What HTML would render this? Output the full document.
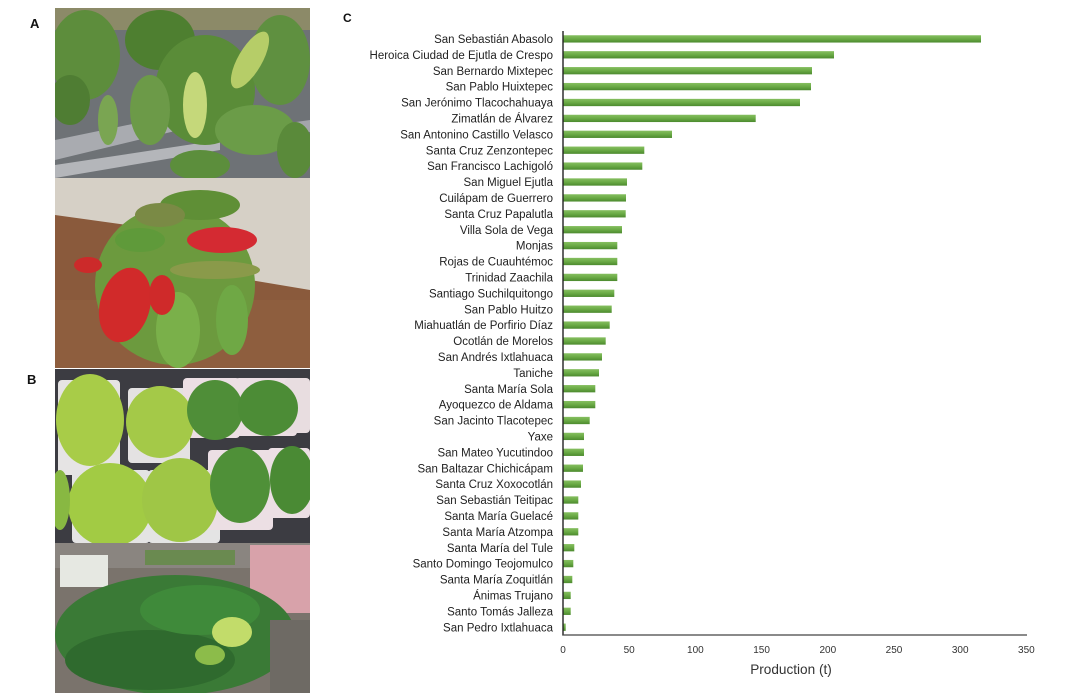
<!DOCTYPE html>
<html><head><meta charset="utf-8"><style>
html,body{margin:0;padding:0;background:#fff;}
svg{display:block;}
.lbl{font-family:"Liberation Sans",Arial,sans-serif;font-size:11.5px;fill:#222;}
.tick{font-family:"Liberation Sans",Arial,sans-serif;font-size:10px;fill:#333;}
.pan{font-family:"Liberation Sans",Arial,sans-serif;font-size:13px;font-weight:bold;fill:#111;}
</style></head><body>
<svg width="1090" height="699" viewBox="0 0 1090 699" xmlns="http://www.w3.org/2000/svg">
<defs>
<linearGradient id="bg" x1="0" y1="0" x2="0" y2="1">
<stop offset="0" stop-color="#86bf60"/><stop offset="0.5" stop-color="#6aaa45"/><stop offset="1" stop-color="#4c8a2e"/>
</linearGradient>
<clipPath id="cA1"><rect x="55" y="8" width="255" height="170"/></clipPath>
<clipPath id="cA2"><rect x="55" y="178" width="255" height="190"/></clipPath>
<clipPath id="cB1"><rect x="55" y="369" width="255" height="174"/></clipPath>
<clipPath id="cB2"><rect x="55" y="543" width="255" height="150"/></clipPath>
</defs>

<!-- Panel labels -->
<text class="pan" x="30" y="28">A</text>
<text class="pan" x="27" y="384">B</text>
<text class="pan" x="343" y="22" style="font-size:12px">C</text>

<!-- Photo A top -->
<g clip-path="url(#cA1)">
<rect x="55" y="8" width="255" height="170" fill="#6e7276"/>
<rect x="55" y="8" width="255" height="22" fill="#8c8a68"/>
<polygon points="55,140 200,110 200,125 55,160" fill="#a9abb0"/>
<polygon points="55,165 220,140 220,150 55,178" fill="#b4b6ba"/>
<polygon points="240,130 310,120 310,132 240,142" fill="#a3a5aa"/>
<ellipse cx="85" cy="55" rx="35" ry="45" fill="#5d8d3c"/>
<ellipse cx="70" cy="100" rx="20" ry="25" fill="#4f7d33"/>
<ellipse cx="160" cy="40" rx="35" ry="30" fill="#4e7f30"/>
<ellipse cx="205" cy="90" rx="50" ry="55" fill="#5a8c38"/>
<ellipse cx="150" cy="110" rx="20" ry="35" fill="#6c9a48"/>
<ellipse cx="280" cy="60" rx="30" ry="45" fill="#5f9040"/>
<ellipse cx="255" cy="130" rx="40" ry="25" fill="#6b9c48"/>
<ellipse cx="295" cy="150" rx="18" ry="28" fill="#5a8a3a"/>
<ellipse cx="200" cy="165" rx="30" ry="15" fill="#5c8e3c"/>
<ellipse cx="195" cy="105" rx="12" ry="33" fill="#c5d87a"/>
<ellipse cx="250" cy="60" rx="12" ry="32" fill="#b6cd68" transform="rotate(30 250 60)"/>
<ellipse cx="108" cy="120" rx="10" ry="25" fill="#7aa552"/>
</g>

<!-- Photo A bottom -->
<g clip-path="url(#cA2)">
<rect x="55" y="178" width="255" height="190" fill="#8a5a3c"/>
<polygon points="55,178 310,178 310,290 250,280 200,235 55,215" fill="#d6d0c6"/>
<rect x="55" y="300" width="255" height="68" fill="#8e5e3e"/>
<ellipse cx="175" cy="285" rx="80" ry="80" fill="#6c9a3e"/>
<ellipse cx="200" cy="205" rx="40" ry="15" fill="#5f8f36"/>
<ellipse cx="160" cy="215" rx="25" ry="12" fill="#7a8a45"/>
<ellipse cx="215" cy="270" rx="45" ry="9" fill="#8a9a4a"/>
<ellipse cx="178" cy="330" rx="22" ry="38" fill="#7ab04a"/>
<ellipse cx="232" cy="320" rx="16" ry="35" fill="#6fa845"/>
<ellipse cx="125" cy="305" rx="25" ry="38" fill="#d12a2a" transform="rotate(15 125 305)"/>
<ellipse cx="222" cy="240" rx="35" ry="13" fill="#d42a32"/>
<ellipse cx="162" cy="295" rx="13" ry="20" fill="#cf2a2a"/>
<ellipse cx="88" cy="265" rx="14" ry="8" fill="#cc2a2a"/>
<ellipse cx="140" cy="240" rx="25" ry="12" fill="#5f9a3a"/>
</g>

<!-- Photo B top -->
<g clip-path="url(#cB1)">
<rect x="55" y="369" width="255" height="174" fill="#3c3c42"/>
<rect x="58" y="380" width="62" height="95" rx="4" fill="#e6e4e4"/>
<rect x="128" y="388" width="62" height="75" rx="4" fill="#e4e2e2"/>
<rect x="183" y="378" width="57" height="60" rx="4" fill="#ecdfe4"/>
<rect x="235" y="378" width="62" height="58" rx="4" fill="#ecdfe4"/>
<rect x="285" y="378" width="25" height="55" rx="4" fill="#e8dde0"/>
<rect x="72" y="470" width="78" height="73" rx="4" fill="#e4e4e4"/>
<rect x="148" y="470" width="72" height="73" rx="4" fill="#e4e4e4"/>
<rect x="208" y="450" width="65" height="80" rx="4" fill="#ecdfe4"/>
<rect x="268" y="448" width="42" height="70" rx="4" fill="#ecdfe4"/>
<ellipse cx="90" cy="420" rx="34" ry="46" fill="#a8cc48"/>
<ellipse cx="160" cy="422" rx="34" ry="36" fill="#a4c948"/>
<ellipse cx="110" cy="505" rx="42" ry="42" fill="#a2cb44"/>
<ellipse cx="180" cy="500" rx="38" ry="42" fill="#9fc646"/>
<ellipse cx="215" cy="410" rx="28" ry="30" fill="#4f8e38"/>
<ellipse cx="268" cy="408" rx="30" ry="28" fill="#4c8c36"/>
<ellipse cx="240" cy="485" rx="30" ry="38" fill="#4f9038"/>
<ellipse cx="292" cy="480" rx="22" ry="34" fill="#4a8a34"/>
<ellipse cx="60" cy="500" rx="10" ry="30" fill="#88b842"/>
</g>

<!-- Photo B bottom -->
<g clip-path="url(#cB2)">
<rect x="55" y="543" width="255" height="150" fill="#7a736c"/>
<rect x="55" y="543" width="255" height="25" fill="#8a8580"/>
<rect x="60" y="555" width="48" height="32" fill="#e6e8e2"/>
<rect x="145" y="550" width="90" height="15" fill="#6a8a50"/>
<rect x="250" y="545" width="60" height="68" fill="#d8a2aa"/>
<ellipse cx="175" cy="635" rx="120" ry="60" fill="#3a7a36"/>
<ellipse cx="150" cy="660" rx="85" ry="30" fill="#2f6a2e"/>
<ellipse cx="200" cy="610" rx="60" ry="25" fill="#3f8a3a"/>
<ellipse cx="232" cy="632" rx="20" ry="15" fill="#c2dc6a"/>
<ellipse cx="210" cy="655" rx="15" ry="10" fill="#8cbc4a"/>
<rect x="270" y="620" width="40" height="73" fill="#6e6a64"/>
</g>

<!-- Chart -->
<g>
<rect x="563" y="35.25" width="418" height="7.3" fill="url(#bg)"/>
<rect x="563" y="51.15" width="271" height="7.3" fill="url(#bg)"/>
<rect x="563" y="67.05" width="249" height="7.3" fill="url(#bg)"/>
<rect x="563" y="82.95" width="248" height="7.3" fill="url(#bg)"/>
<rect x="563" y="98.85" width="237" height="7.3" fill="url(#bg)"/>
<rect x="563" y="114.75" width="192.7" height="7.3" fill="url(#bg)"/>
<rect x="563" y="130.65" width="109" height="7.3" fill="url(#bg)"/>
<rect x="563" y="146.55" width="81.3" height="7.3" fill="url(#bg)"/>
<rect x="563" y="162.45" width="79.3" height="7.3" fill="url(#bg)"/>
<rect x="563" y="178.35" width="64" height="7.3" fill="url(#bg)"/>
<rect x="563" y="194.25" width="63" height="7.3" fill="url(#bg)"/>
<rect x="563" y="210.15" width="62.7" height="7.3" fill="url(#bg)"/>
<rect x="563" y="226.05" width="59" height="7.3" fill="url(#bg)"/>
<rect x="563" y="241.95" width="54.3" height="7.3" fill="url(#bg)"/>
<rect x="563" y="257.85" width="54.3" height="7.3" fill="url(#bg)"/>
<rect x="563" y="273.75" width="54.3" height="7.3" fill="url(#bg)"/>
<rect x="563" y="289.65" width="51.3" height="7.3" fill="url(#bg)"/>
<rect x="563" y="305.55" width="48.7" height="7.3" fill="url(#bg)"/>
<rect x="563" y="321.45" width="46.7" height="7.3" fill="url(#bg)"/>
<rect x="563" y="337.35" width="42.7" height="7.3" fill="url(#bg)"/>
<rect x="563" y="353.25" width="39" height="7.3" fill="url(#bg)"/>
<rect x="563" y="369.15" width="36" height="7.3" fill="url(#bg)"/>
<rect x="563" y="385.05" width="32.3" height="7.3" fill="url(#bg)"/>
<rect x="563" y="400.95" width="32.3" height="7.3" fill="url(#bg)"/>
<rect x="563" y="416.85" width="26.7" height="7.3" fill="url(#bg)"/>
<rect x="563" y="432.75" width="21" height="7.3" fill="url(#bg)"/>
<rect x="563" y="448.65" width="21" height="7.3" fill="url(#bg)"/>
<rect x="563" y="464.55" width="20" height="7.3" fill="url(#bg)"/>
<rect x="563" y="480.45" width="18" height="7.3" fill="url(#bg)"/>
<rect x="563" y="496.35" width="15.3" height="7.3" fill="url(#bg)"/>
<rect x="563" y="512.25" width="15.3" height="7.3" fill="url(#bg)"/>
<rect x="563" y="528.15" width="15.3" height="7.3" fill="url(#bg)"/>
<rect x="563" y="544.05" width="11.3" height="7.3" fill="url(#bg)"/>
<rect x="563" y="559.95" width="10.3" height="7.3" fill="url(#bg)"/>
<rect x="563" y="575.85" width="9.3" height="7.3" fill="url(#bg)"/>
<rect x="563" y="591.75" width="7.7" height="7.3" fill="url(#bg)"/>
<rect x="563" y="607.65" width="7.7" height="7.3" fill="url(#bg)"/>
<rect x="563" y="623.55" width="2.7" height="7.3" fill="url(#bg)"/>
</g>

<g class="lbl" text-anchor="end">
<text x="553" y="43">San Sebastián Abasolo</text>
<text x="553" y="58.9">Heroica Ciudad de Ejutla de Crespo</text>
<text x="553" y="74.8">San Bernardo Mixtepec</text>
<text x="553" y="90.7">San Pablo Huixtepec</text>
<text x="553" y="106.6">San Jerónimo Tlacochahuaya</text>
<text x="553" y="122.5">Zimatlán de Álvarez</text>
<text x="553" y="138.4">San Antonino Castillo Velasco</text>
<text x="553" y="154.3">Santa Cruz Zenzontepec</text>
<text x="553" y="170.2">San Francisco Lachigoló</text>
<text x="553" y="186.1">San Miguel Ejutla</text>
<text x="553" y="202">Cuilápam de Guerrero</text>
<text x="553" y="217.9">Santa Cruz Papalutla</text>
<text x="553" y="233.8">Villa Sola de Vega</text>
<text x="553" y="249.7">Monjas</text>
<text x="553" y="265.6">Rojas de Cuauhtémoc</text>
<text x="553" y="281.5">Trinidad Zaachila</text>
<text x="553" y="297.4">Santiago Suchilquitongo</text>
<text x="553" y="313.3">San Pablo Huitzo</text>
<text x="553" y="329.2">Miahuatlán de Porfirio Díaz</text>
<text x="553" y="345.1">Ocotlán de Morelos</text>
<text x="553" y="361">San Andrés Ixtlahuaca</text>
<text x="553" y="376.9">Taniche</text>
<text x="553" y="392.8">Santa María Sola</text>
<text x="553" y="408.7">Ayoquezco de Aldama</text>
<text x="553" y="424.6">San Jacinto Tlacotepec</text>
<text x="553" y="440.5">Yaxe</text>
<text x="553" y="456.4">San Mateo Yucutindoo</text>
<text x="553" y="472.3">San Baltazar Chichicápam</text>
<text x="553" y="488.2">Santa Cruz Xoxocotlán</text>
<text x="553" y="504.1">San Sebastián Teitipac</text>
<text x="553" y="520">Santa María Guelacé</text>
<text x="553" y="535.9">Santa María Atzompa</text>
<text x="553" y="551.8">Santa María del Tule</text>
<text x="553" y="567.7">Santo Domingo Teojomulco</text>
<text x="553" y="583.6">Santa María Zoquitlán</text>
<text x="553" y="599.5">Ánimas Trujano</text>
<text x="553" y="615.4">Santo Tomás Jalleza</text>
<text x="553" y="631.3">San Pedro Ixtlahuaca</text>
</g>

<!-- Axes -->
<line x1="563" y1="31" x2="563" y2="635.5" stroke="#222" stroke-width="1.4"/>
<line x1="562.3" y1="635" x2="1027" y2="635" stroke="#444" stroke-width="1.3"/>

<g class="tick" text-anchor="middle">
<text x="563" y="653">0</text>
<text x="629.2" y="653">50</text>
<text x="695.4" y="653">100</text>
<text x="761.6" y="653">150</text>
<text x="827.8" y="653">200</text>
<text x="894" y="653">250</text>
<text x="960.2" y="653">300</text>
<text x="1026.4" y="653">350</text>
</g>
<text x="791" y="674" text-anchor="middle" style="font-family:'Liberation Sans',Arial,sans-serif;font-size:13.6px;fill:#333">Production (t)</text>
</svg>
</body></html>
